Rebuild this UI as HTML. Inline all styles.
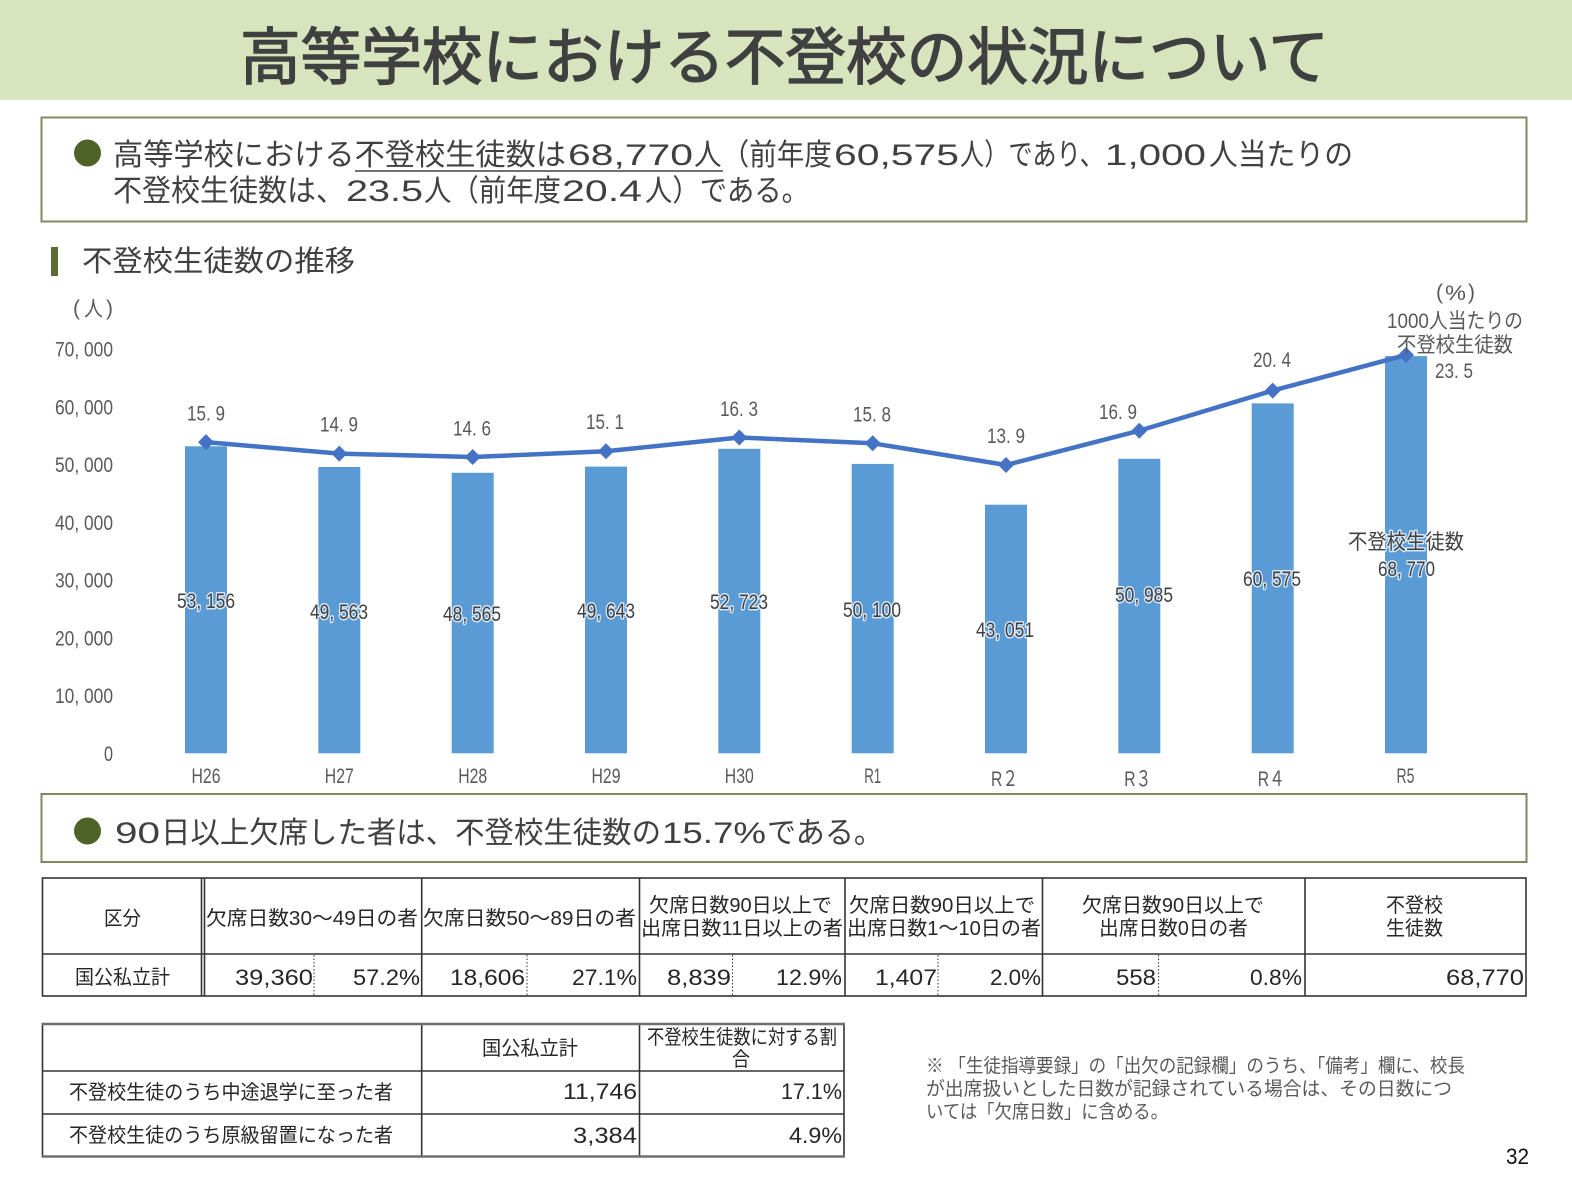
<!DOCTYPE html>
<html lang="ja">
<head>
<meta charset="utf-8">
<style>
  html,body{margin:0;padding:0;background:#fff;}
  svg{display:block;}
  text{font-family:"Liberation Sans","Noto Sans CJK JP",sans-serif;}
  .c{fill:#595959;font-size:21px;}
  .v{fill:#404040;font-size:21px;paint-order:stroke;stroke:#ffffff;stroke-width:3px;stroke-opacity:0.75;stroke-linejoin:round;}
  .t{fill:#262626;font-size:20px;}
  .d{fill:#262626;font-size:22px;}
</style>
</head>
<body>
<svg width="1572" height="1177" viewBox="0 0 1572 1177" xmlns="http://www.w3.org/2000/svg">
  <rect x="0" y="0" width="1572" height="1177" fill="#ffffff"/>
  <!-- Header -->
  <rect x="0" y="0" width="1572" height="100" fill="#d7e4bd"/>
  <text x="240" y="79" font-size="62" font-weight="normal" fill="#404040" stroke="#404040" stroke-width="1.4" textLength="1089" lengthAdjust="spacingAndGlyphs">高等学校における不登校の状況について</text>

  <!-- Box 1 -->
  <rect x="41.5" y="117.5" width="1485" height="104" fill="none" stroke="#7f8a62" stroke-width="2"/>
  <circle cx="87.5" cy="153" r="13.5" fill="#4f6228"/>
  <g font-size="30" fill="#404040">
    <text x="113" y="165" textLength="453" lengthAdjust="spacingAndGlyphs">高等学校における不登校生徒数は</text>
    <text x="568" y="165" textLength="125" lengthAdjust="spacingAndGlyphs">68,770</text>
    <text x="694" y="165" textLength="138" lengthAdjust="spacingAndGlyphs">人（前年度</text>
    <text x="834" y="165" textLength="125" lengthAdjust="spacingAndGlyphs">60,575</text>
    <text x="960" y="165" textLength="144" lengthAdjust="spacingAndGlyphs">人）であり、</text>
    <text x="1105" y="165" textLength="101" lengthAdjust="spacingAndGlyphs">1,000</text>
    <text x="1209" y="165" textLength="144" lengthAdjust="spacingAndGlyphs">人当たりの</text>

    <text x="113" y="201" textLength="232" lengthAdjust="spacingAndGlyphs">不登校生徒数は、</text>
    <text x="346" y="201" textLength="77" lengthAdjust="spacingAndGlyphs">23.5</text>
    <text x="424" y="201" textLength="137" lengthAdjust="spacingAndGlyphs">人（前年度</text>
    <text x="562" y="201" textLength="80" lengthAdjust="spacingAndGlyphs">20.4</text>
    <text x="645" y="201" textLength="164" lengthAdjust="spacingAndGlyphs">人）である。</text>
  </g>
  <line x1="355" y1="171" x2="723" y2="171" stroke="#404040" stroke-width="1.6"/>

  <!-- Section heading -->
  <rect x="51" y="247" width="7" height="29" fill="#5b6b2f"/>
  <text x="82" y="271" font-size="29" fill="#404040" textLength="273" lengthAdjust="spacingAndGlyphs">不登校生徒数の推移</text>

  <!-- Chart: y axis labels -->
  <text class="c" x="73" y="315">(</text>
  <text class="c" x="84" y="316" textLength="19" lengthAdjust="spacingAndGlyphs">人</text>
  <text class="c" x="106" y="315">)</text>
  <text class="c" x="55" y="356.5" textLength="58" lengthAdjust="spacingAndGlyphs">70, 000</text>
  <text class="c" x="55" y="414.3" textLength="58" lengthAdjust="spacingAndGlyphs">60, 000</text>
  <text class="c" x="55" y="472" textLength="58" lengthAdjust="spacingAndGlyphs">50, 000</text>
  <text class="c" x="55" y="529.8" textLength="58" lengthAdjust="spacingAndGlyphs">40, 000</text>
  <text class="c" x="55" y="587.5" textLength="58" lengthAdjust="spacingAndGlyphs">30, 000</text>
  <text class="c" x="55" y="645.3" textLength="58" lengthAdjust="spacingAndGlyphs">20, 000</text>
  <text class="c" x="55" y="703" textLength="58" lengthAdjust="spacingAndGlyphs">10, 000</text>
  <text class="c" x="104" y="760.8" textLength="9" lengthAdjust="spacingAndGlyphs">0</text>

  <!-- Bars -->
  <g fill="#5b9bd5">
    <rect x="185" y="446.3" width="42" height="307"/>
    <rect x="318.3" y="467.0" width="42" height="286.3"/>
    <rect x="451.7" y="472.8" width="42" height="280.5"/>
    <rect x="585" y="466.6" width="42" height="286.7"/>
    <rect x="718.3" y="448.8" width="42" height="304.5"/>
    <rect x="851.7" y="463.9" width="42" height="289.4"/>
    <rect x="985" y="504.7" width="42" height="248.6"/>
    <rect x="1118.3" y="458.8" width="42" height="294.5"/>
    <rect x="1251.7" y="403.4" width="42" height="349.9"/>
    <rect x="1385" y="356.1" width="42" height="397.2"/>
  </g>

  <!-- Line -->
  <polyline fill="none" stroke="#4472c4" stroke-width="4.5" stroke-linejoin="round"
    points="206,442.1 339.3,453.6 472.7,457.0 606,451.3 739.3,437.5 872.7,443.3 1006,465.0 1139.3,430.7 1272.7,390.6 1406,355.0"/>
  <g fill="#4472c4">
    <polygon points="206,434.1 214,442.1 206,450.1 198,442.1"/>
    <polygon points="339.3,445.6 347.3,453.6 339.3,461.6 331.3,453.6"/>
    <polygon points="472.7,449 480.7,457 472.7,465 464.7,457"/>
    <polygon points="606,443.3 614,451.3 606,459.3 598,451.3"/>
    <polygon points="739.3,429.5 747.3,437.5 739.3,445.5 731.3,437.5"/>
    <polygon points="872.7,435.3 880.7,443.3 872.7,451.3 864.7,443.3"/>
    <polygon points="1006,457 1014,465 1006,473 998,465"/>
    <polygon points="1139.3,422.7 1147.3,430.7 1139.3,438.7 1131.3,430.7"/>
    <polygon points="1272.7,382.6 1280.7,390.6 1272.7,398.6 1264.7,390.6"/>
    <polygon points="1406,347 1414,355 1406,363 1398,355"/>
  </g>

  <!-- Line labels -->
  <text class="c" x="187" y="420.5" textLength="38" lengthAdjust="spacingAndGlyphs">15. 9</text>
  <text class="c" x="320" y="431.5" textLength="38" lengthAdjust="spacingAndGlyphs">14. 9</text>
  <text class="c" x="453" y="435.5" textLength="38" lengthAdjust="spacingAndGlyphs">14. 6</text>
  <text class="c" x="586" y="429" textLength="38" lengthAdjust="spacingAndGlyphs">15. 1</text>
  <text class="c" x="720" y="416" textLength="38" lengthAdjust="spacingAndGlyphs">16. 3</text>
  <text class="c" x="853" y="421.5" textLength="38" lengthAdjust="spacingAndGlyphs">15. 8</text>
  <text class="c" x="987" y="443" textLength="38" lengthAdjust="spacingAndGlyphs">13. 9</text>
  <text class="c" x="1099" y="419" textLength="38" lengthAdjust="spacingAndGlyphs">16. 9</text>
  <text class="c" x="1253" y="367" textLength="38" lengthAdjust="spacingAndGlyphs">20. 4</text>

  <!-- Right side annotation -->
  <text class="c" x="1436" y="299">(</text>
  <text class="c" x="1445" y="300" textLength="21" lengthAdjust="spacingAndGlyphs">%</text>
  <text class="c" x="1468" y="299">)</text>
  <text class="c" x="1387" y="328" font-size="20" textLength="136" lengthAdjust="spacingAndGlyphs">1000人当たりの</text>
  <text class="c" x="1397" y="352" font-size="20" textLength="116" lengthAdjust="spacingAndGlyphs">不登校生徒数</text>
  <text class="c" x="1435" y="378" textLength="38" lengthAdjust="spacingAndGlyphs">23. 5</text>

  <!-- Bar value labels -->
  <text class="v" x="177" y="608" textLength="58" lengthAdjust="spacingAndGlyphs">53, 156</text>
  <text class="v" x="310" y="619" textLength="58" lengthAdjust="spacingAndGlyphs">49, 563</text>
  <text class="v" x="443" y="621" textLength="58" lengthAdjust="spacingAndGlyphs">48, 565</text>
  <text class="v" x="577" y="618" textLength="58" lengthAdjust="spacingAndGlyphs">49, 643</text>
  <text class="v" x="710" y="609" textLength="58" lengthAdjust="spacingAndGlyphs">52, 723</text>
  <text class="v" x="843" y="617" textLength="58" lengthAdjust="spacingAndGlyphs">50, 100</text>
  <text class="v" x="976" y="637" textLength="58" lengthAdjust="spacingAndGlyphs">43, 051</text>
  <text class="v" x="1115" y="602" textLength="58" lengthAdjust="spacingAndGlyphs">50, 985</text>
  <text class="v" x="1243" y="586" textLength="58" lengthAdjust="spacingAndGlyphs">60, 575</text>
  <text class="v" x="1348" y="549" font-size="20" textLength="116" lengthAdjust="spacingAndGlyphs">不登校生徒数</text>
  <text class="v" x="1378" y="576" textLength="57" lengthAdjust="spacingAndGlyphs">68, 770</text>

  <!-- X labels -->
  <text class="c" x="191.5" y="783" textLength="29" lengthAdjust="spacingAndGlyphs">H26</text>
  <text class="c" x="324.8" y="783" textLength="29" lengthAdjust="spacingAndGlyphs">H27</text>
  <text class="c" x="458.2" y="783" textLength="29" lengthAdjust="spacingAndGlyphs">H28</text>
  <text class="c" x="591.5" y="783" textLength="29" lengthAdjust="spacingAndGlyphs">H29</text>
  <text class="c" x="724.8" y="783" textLength="29" lengthAdjust="spacingAndGlyphs">H30</text>
  <text class="c" x="864.2" y="783" textLength="17" lengthAdjust="spacingAndGlyphs">R1</text>
  <text class="c" x="991" y="786" textLength="27" lengthAdjust="spacingAndGlyphs">R２</text>
  <text class="c" x="1124.3" y="786" textLength="27" lengthAdjust="spacingAndGlyphs">R３</text>
  <text class="c" x="1257.7" y="786" textLength="27" lengthAdjust="spacingAndGlyphs">R４</text>
  <text class="c" x="1396.5" y="783" textLength="18" lengthAdjust="spacingAndGlyphs">R5</text>

  <!-- Box 2 -->
  <rect x="41.5" y="794" width="1485" height="68" fill="none" stroke="#7f8a62" stroke-width="2"/>
  <circle cx="87.5" cy="831" r="13.5" fill="#4f6228"/>
  <g font-size="30" fill="#404040">
    <text x="115" y="843" textLength="45" lengthAdjust="spacingAndGlyphs">90</text>
    <text x="161" y="843" textLength="500" lengthAdjust="spacingAndGlyphs">日以上欠席した者は、不登校生徒数の</text>
    <text x="662" y="843" textLength="104" lengthAdjust="spacingAndGlyphs">15.7%</text>
    <text x="767" y="843" textLength="116" lengthAdjust="spacingAndGlyphs">である。</text>
  </g>

  <!-- Table 1 -->
  <g stroke="#333" stroke-width="1.6" fill="none">
    <rect x="42.5" y="878" width="1483.5" height="118"/>
    <line x1="42.5" y1="954" x2="1526" y2="954"/>
    <line x1="201.5" y1="878" x2="201.5" y2="996"/>
    <line x1="204.5" y1="878" x2="204.5" y2="996"/>
    <line x1="421.7" y1="878" x2="421.7" y2="996"/>
    <line x1="639.5" y1="878" x2="639.5" y2="996"/>
    <line x1="845" y1="878" x2="845" y2="996"/>
    <line x1="1042.5" y1="878" x2="1042.5" y2="996"/>
    <line x1="1305" y1="878" x2="1305" y2="996"/>
  </g>
  <g stroke="#333" stroke-width="1" stroke-dasharray="1.5 2">
    <line x1="314" y1="955" x2="314" y2="995"/>
    <line x1="527" y1="955" x2="527" y2="995"/>
    <line x1="732.5" y1="955" x2="732.5" y2="995"/>
    <line x1="938" y1="955" x2="938" y2="995"/>
    <line x1="1158.6" y1="955" x2="1158.6" y2="995"/>
  </g>
  <text class="t" x="104" y="925" textLength="37" lengthAdjust="spacingAndGlyphs">区分</text>
  <text class="t" x="206" y="925" textLength="212" lengthAdjust="spacingAndGlyphs">欠席日数30～49日の者</text>
  <text class="t" x="423" y="925" textLength="213" lengthAdjust="spacingAndGlyphs">欠席日数50～89日の者</text>
  <text class="t" x="649" y="912" textLength="183" lengthAdjust="spacingAndGlyphs">欠席日数90日以上で</text>
  <text class="t" x="641" y="935" textLength="202" lengthAdjust="spacingAndGlyphs">出席日数11日以上の者</text>
  <text class="t" x="849" y="912" textLength="186" lengthAdjust="spacingAndGlyphs">欠席日数90日以上で</text>
  <text class="t" x="847" y="935" textLength="194" lengthAdjust="spacingAndGlyphs">出席日数1～10日の者</text>
  <text class="t" x="1082" y="912" textLength="182" lengthAdjust="spacingAndGlyphs">欠席日数90日以上で</text>
  <text class="t" x="1099" y="935" textLength="149" lengthAdjust="spacingAndGlyphs">出席日数0日の者</text>
  <text class="t" x="1386" y="912" textLength="57" lengthAdjust="spacingAndGlyphs">不登校</text>
  <text class="t" x="1386" y="935" textLength="57" lengthAdjust="spacingAndGlyphs">生徒数</text>

  <text class="t" x="75" y="984" textLength="95" lengthAdjust="spacingAndGlyphs">国公私立計</text>
  <text class="d" x="235" y="985" textLength="78" lengthAdjust="spacingAndGlyphs">39,360</text>
  <text class="d" x="353" y="985" textLength="67" lengthAdjust="spacingAndGlyphs">57.2%</text>
  <text class="d" x="450" y="985" textLength="75" lengthAdjust="spacingAndGlyphs">18,606</text>
  <text class="d" x="572" y="985" textLength="65" lengthAdjust="spacingAndGlyphs">27.1%</text>
  <text class="d" x="667" y="985" textLength="64" lengthAdjust="spacingAndGlyphs">8,839</text>
  <text class="d" x="776" y="985" textLength="66" lengthAdjust="spacingAndGlyphs">12.9%</text>
  <text class="d" x="875" y="985" textLength="62" lengthAdjust="spacingAndGlyphs">1,407</text>
  <text class="d" x="990" y="985" textLength="51" lengthAdjust="spacingAndGlyphs">2.0%</text>
  <text class="d" x="1116" y="985" textLength="40" lengthAdjust="spacingAndGlyphs">558</text>
  <text class="d" x="1250" y="985" textLength="52" lengthAdjust="spacingAndGlyphs">0.8%</text>
  <text class="d" x="1446" y="985" textLength="78" lengthAdjust="spacingAndGlyphs">68,770</text>

  <!-- Table 2 -->
  <g stroke="#333" stroke-width="1.6" fill="none">
    <line x1="42.5" y1="1024" x2="42.5" y2="1156.5"/>
    <line x1="844" y1="1024" x2="844" y2="1156.5"/>
    <line x1="421.7" y1="1024" x2="421.7" y2="1156.5"/>
    <line x1="639.5" y1="1024" x2="639.5" y2="1156.5"/>
    <line x1="42.5" y1="1071" x2="844" y2="1071"/>
    <line x1="42.5" y1="1114" x2="844" y2="1114"/>
  </g>
  <line x1="41.5" y1="1024" x2="845" y2="1024" stroke="#6f6f6f" stroke-width="2.6"/>
  <line x1="41.5" y1="1156.5" x2="845" y2="1156.5" stroke="#6f6f6f" stroke-width="2.6"/>
  <text class="t" x="482" y="1055" textLength="96" lengthAdjust="spacingAndGlyphs">国公私立計</text>
  <text class="t" x="647" y="1044" font-size="18" textLength="190" lengthAdjust="spacingAndGlyphs">不登校生徒数に対する割</text>
  <text class="t" x="732" y="1066" font-size="18" textLength="18" lengthAdjust="spacingAndGlyphs">合</text>
  <text class="t" x="69" y="1099" textLength="324" lengthAdjust="spacingAndGlyphs">不登校生徒のうち中途退学に至った者</text>
  <text class="t" x="69" y="1142" textLength="324" lengthAdjust="spacingAndGlyphs">不登校生徒のうち原級留置になった者</text>
  <text class="d" x="563" y="1099" textLength="74" lengthAdjust="spacingAndGlyphs">11,746</text>
  <text class="d" x="781" y="1099" textLength="61" lengthAdjust="spacingAndGlyphs">17.1%</text>
  <text class="d" x="573" y="1143" textLength="64" lengthAdjust="spacingAndGlyphs">3,384</text>
  <text class="d" x="789" y="1143" textLength="53" lengthAdjust="spacingAndGlyphs">4.9%</text>

  <!-- Note -->
  <g font-size="19" fill="#595959">
    <text x="926" y="1072" textLength="539" lengthAdjust="spacingAndGlyphs">※ 「生徒指導要録」の「出欠の記録欄」のうち、「備考」欄に、校長</text>
    <text x="926" y="1095" textLength="526" lengthAdjust="spacingAndGlyphs">が出席扱いとした日数が記録されている場合は、その日数につ</text>
    <text x="926" y="1118" textLength="242" lengthAdjust="spacingAndGlyphs">いては「欠席日数」に含める。</text>
  </g>

  <!-- Page number -->
  <text x="1506" y="1164" font-size="22" fill="#111" textLength="23" lengthAdjust="spacingAndGlyphs">32</text>
</svg>
</body>
</html>
